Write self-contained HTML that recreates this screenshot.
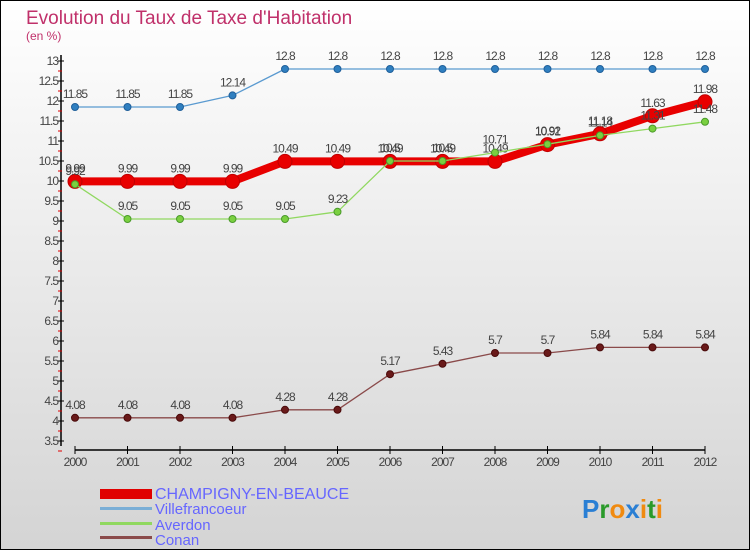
<!DOCTYPE html>
<html><head><meta charset="utf-8"><style>
body{margin:0;}
svg{display:block;font-family:"Liberation Sans",sans-serif;}
</style></head><body>
<svg id="c" width="750" height="550" xmlns="http://www.w3.org/2000/svg">
<defs><linearGradient id="bg" x1="0" y1="0" x2="0" y2="1"><stop offset="0" stop-color="#ffffff"/><stop offset="1" stop-color="#d4d4d4"/></linearGradient></defs>
<rect x="0.5" y="0.5" width="749" height="549" fill="url(#bg)" stroke="#000"/>
<text x="26" y="24" font-size="19" fill="#c0306a">Evolution du Taux de Taxe d'Habitation</text>
<text x="26" y="40" font-size="12" fill="#c0306a">(en %)</text>
<g id="axes"></g>
<g id="series"></g>
<g id="legend">
<rect x="100" y="489" width="52" height="10" fill="#e00000"/>
<text x="155" y="499" font-size="16" fill="#6666ff">CHAMPIGNY-EN-BEAUCE</text>
<rect x="100" y="507" width="52" height="3" fill="#7aaed6"/>
<text x="155" y="514" font-size="15" fill="#6666ff">Villefrancoeur</text>
<rect x="100" y="522" width="52" height="3" fill="#90d860"/>
<text x="155" y="530" font-size="15" fill="#6666ff">Averdon</text>
<rect x="100" y="536" width="52" height="3" fill="#8a4a4a"/>
<text x="155" y="545" font-size="15" fill="#6666ff">Conan</text>
</g>
<g font-size="26" font-weight="bold">
<text x="582" y="518"><tspan fill="#2a7fd4">P</tspan><tspan fill="#2a9a2a">r</tspan><tspan fill="#f08a10">o</tspan><tspan fill="#2a7fd4">x</tspan><tspan fill="#f08a10">i</tspan><tspan fill="#2a9a2a">t</tspan><tspan fill="#f08a10">i</tspan></text>
</g>
</svg>
<script>
const years=[2000,2001,2002,2003,2004,2005,2006,2007,2008,2009,2010,2011,2012];
const champigny=[9.99,9.99,9.99,9.99,10.49,10.49,10.49,10.49,10.49,10.91,11.18,11.63,11.98];
const villefrancoeur=[11.85,11.85,11.85,12.14,12.8,12.8,12.8,12.8,12.8,12.8,12.8,12.8,12.8];
const averdon=[9.92,9.05,9.05,9.05,9.05,9.23,10.5,10.5,10.71,10.92,11.14,11.31,11.48];
const conan=[4.08,4.08,4.08,4.08,4.28,4.28,5.17,5.43,5.7,5.7,5.84,5.84,5.84];
const yTicks=[3.5,4,4.5,5,5.5,6,6.5,7,7.5,8,8.5,9,9.5,10,10.5,11,11.5,12,12.5,13];

const NS='http://www.w3.org/2000/svg';
const x=i=>75+i*52.5;
const y=v=>441-(v-3.5)*40;
function mk(t,a,p){const e=document.createElementNS(NS,t);for(const k in a)e.setAttribute(k,a[k]);p.appendChild(e);return e;}
const ax=document.getElementById('axes');
let yl=mk('line',{x1:61,y1:55,x2:61,y2:446,stroke:'#000','stroke-width':1.5},ax);


yTicks.forEach(v=>{
  mk('line',{x1:58,y1:y(v),x2:64,y2:y(v),stroke:'#000'},ax);
  mk('line',{x1:58,y1:y(v)+10,x2:62,y2:y(v)+10,stroke:'#e00000'},ax);
  const t=mk('text',{x:58,y:y(v)+4,'font-size':12,'text-anchor':'end',fill:'#444','letter-spacing':-1},ax);
  t.textContent=String(v);
  
  
});
let xl=mk('line',{x1:75,y1:450,x2:705,y2:450,stroke:'#000','stroke-width':1.5},ax);


years.forEach((yr,i)=>{
  mk('line',{x1:x(i),y1:446,x2:x(i),y2:454,stroke:'#000'},ax);
  const t=mk('text',{x:x(i),y:466,'font-size':12,'text-anchor':'middle',fill:'#444','letter-spacing':-1},ax);
  t.textContent=String(yr);
  
  
});
const sg=document.getElementById('series');
function series(vals,name,color,w,r,fill,stroke){
  const g=mk('g',{},sg);
  
  
  const pl=mk('polyline',{points:vals.map((v,i)=>x(i)+','+y(v)).join(' '),fill:'none',stroke:color,'stroke-width':w,'stroke-linejoin':'round'},g);
  
  
  vals.forEach((v,i)=>{
    const c=mk('circle',{cx:x(i),cy:y(v),r:r,fill:fill,stroke:stroke,'stroke-width':1},g);
    
    
    const t=mk('text',{x:x(i),y:y(v)-9,'font-size':12,'text-anchor':'middle',fill:'#444','letter-spacing':-1},g);
    t.textContent=String(v);
    
    
  });
}
series(villefrancoeur,'villefrancoeur','#5a9ad0',1.3,3.5,'#2f7fc0','#1f5f9a');
series(conan,'conan','#8a4a4a',1.3,3.5,'#6a1a1a','#4a0a0a');
series(champigny,'champigny','#e80000',8,7,'#e80000','#c00000');
series(averdon,'averdon','#90d860',1.3,3.5,'#7ad040','#4a9a2a');
</script>
</body></html>
